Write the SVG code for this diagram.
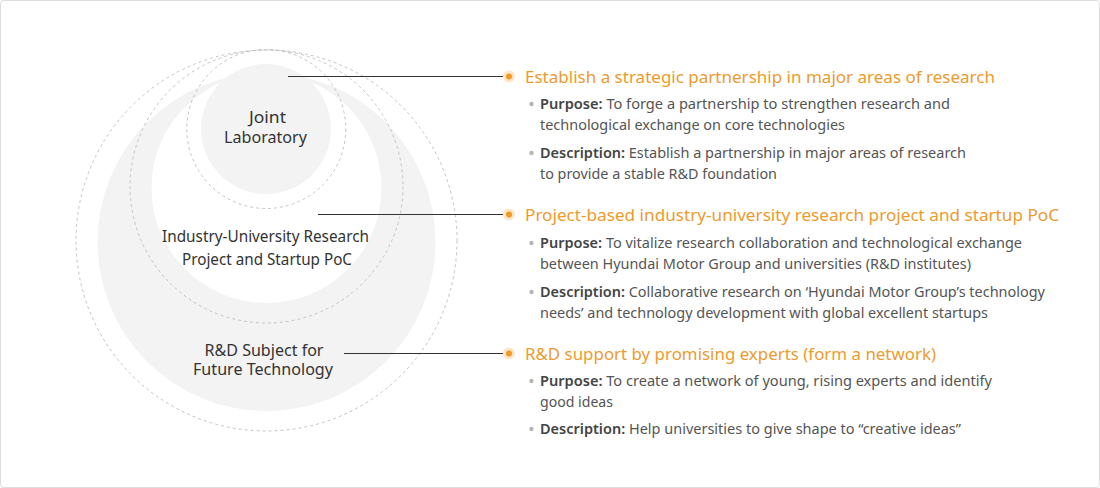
<svg xmlns="http://www.w3.org/2000/svg" width="1100" height="488" viewBox="0 0 1100 488">
<style>
.dash{fill:none;stroke:#c4c4c4;stroke-width:1;stroke-dasharray:3 3}
.lbl{font-family:"Noto Sans","Liberation Sans",sans-serif;font-size:15.5px;fill:#333;text-anchor:middle}
.h{font-family:"Noto Sans","Liberation Sans",sans-serif;font-size:16.5px;fill:#eb9b2d}
.b{font-family:"Noto Sans","Liberation Sans",sans-serif;font-size:14px;fill:#555}
.b tspan.k{font-weight:600;fill:#444}
.ln{stroke:#333;stroke-width:1;fill:none}
.bd{fill:#b5b5b5}
</style>
<rect x="0.5" y="0.5" width="1099" height="487" rx="3" fill="#fff" stroke="#dcdcdc"/>
<g id="circle-future">
<circle cx="266.5" cy="242" r="169" fill="#f3f3f3"/>
<circle cx="266.5" cy="240.5" r="190.5" class="dash"/>
<text class="lbl" x="264" y="356" textLength="119" lengthAdjust="spacingAndGlyphs">R&amp;D Subject for</text>
<text class="lbl" x="263" y="375" textLength="140" lengthAdjust="spacingAndGlyphs">Future Technology</text>
</g>
<g id="circle-industry">
<circle cx="266.5" cy="188" r="115" fill="#fff"/>
<circle cx="266.5" cy="186.5" r="136.5" class="dash"/>
<text class="lbl" x="265.5" y="242" textLength="207" lengthAdjust="spacingAndGlyphs">Industry-University Research</text>
<text class="lbl" x="267" y="265" textLength="170" lengthAdjust="spacingAndGlyphs">Project and Startup PoC</text>
</g>
<g id="circle-joint">
<circle cx="266" cy="129" r="65" fill="#f3f3f3"/>
<circle cx="266.3" cy="129" r="79.5" class="dash"/>
<text class="lbl" x="267.5" y="123" textLength="37" lengthAdjust="spacingAndGlyphs">Joint</text>
<text class="lbl" x="265.5" y="143" textLength="83" lengthAdjust="spacingAndGlyphs">Laboratory</text>
</g>
<g id="connectors">
<line class="ln" x1="288" y1="76.5" x2="509" y2="76.5"/>
<line class="ln" x1="318" y1="214.5" x2="509" y2="214.5"/>
<line class="ln" x1="344" y1="353.5" x2="509" y2="353.5"/>
<circle cx="509" cy="76.5" r="6" fill="#fce6c9"/><circle cx="509" cy="76.5" r="3" fill="#ee9a25"/>
<circle cx="509" cy="214.5" r="6" fill="#fce6c9"/><circle cx="509" cy="214.5" r="3" fill="#ee9a25"/>
<circle cx="509" cy="353.5" r="6" fill="#fce6c9"/><circle cx="509" cy="353.5" r="3" fill="#ee9a25"/>
</g>
<g id="section-1">
<text class="h" x="525" y="83" textLength="470" lengthAdjust="spacingAndGlyphs">Establish a strategic partnership in major areas of research</text>
<circle class="bd" cx="531.5" cy="104" r="2.2"/>
<text class="b" x="540" y="109" textLength="410" lengthAdjust="spacingAndGlyphs"><tspan class="k">Purpose:</tspan> To forge a partnership to strengthen research and</text>
<text class="b" x="540" y="130" textLength="305" lengthAdjust="spacingAndGlyphs">technological exchange on core technologies</text>
<circle class="bd" cx="531.5" cy="153" r="2.2"/>
<text class="b" x="540" y="158" textLength="426" lengthAdjust="spacingAndGlyphs"><tspan class="k">Description:</tspan> Establish a partnership in major areas of research</text>
<text class="b" x="540" y="179" textLength="237" lengthAdjust="spacingAndGlyphs">to provide a stable R&amp;D foundation</text>
</g>
<g id="section-2">
<text class="h" x="525" y="221" textLength="534" lengthAdjust="spacingAndGlyphs">Project-based industry-university research project and startup PoC</text>
<circle class="bd" cx="531.5" cy="243" r="2.2"/>
<text class="b" x="540" y="248" textLength="482" lengthAdjust="spacingAndGlyphs"><tspan class="k">Purpose:</tspan> To vitalize research collaboration and technological exchange</text>
<text class="b" x="540" y="269" textLength="431" lengthAdjust="spacingAndGlyphs">between Hyundai Motor Group and universities (R&amp;D institutes)</text>
<circle class="bd" cx="531.5" cy="292" r="2.2"/>
<text class="b" x="540" y="297" textLength="505" lengthAdjust="spacingAndGlyphs"><tspan class="k">Description:</tspan>  Collaborative research on ‘Hyundai Motor Group’s technology</text>
<text class="b" x="540" y="318" textLength="448" lengthAdjust="spacingAndGlyphs">needs’ and technology development with global excellent startups</text>
</g>
<g id="section-3">
<text class="h" x="525" y="360" textLength="411" lengthAdjust="spacingAndGlyphs">R&amp;D support by promising experts (form a network)</text>
<circle class="bd" cx="531.5" cy="381" r="2.2"/>
<text class="b" x="540" y="386" textLength="452" lengthAdjust="spacingAndGlyphs"><tspan class="k">Purpose:</tspan> To create a network of young, rising experts and identify</text>
<text class="b" x="540" y="407" textLength="73" lengthAdjust="spacingAndGlyphs">good ideas</text>
<circle class="bd" cx="531.5" cy="429" r="2.2"/>
<text class="b" x="540" y="434" textLength="421" lengthAdjust="spacingAndGlyphs"><tspan class="k">Description:</tspan> Help universities to give shape to “creative ideas”</text>
</g>
</svg>
